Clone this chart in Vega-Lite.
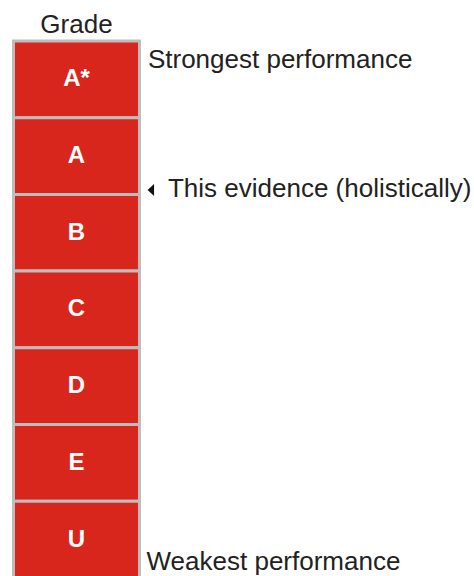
{
  "$schema": "https://vega.github.io/schema/vega-lite/v6.json",
  "width": 474,
  "height": 576,
  "autosize": "none",
  "padding": 0,
  "background": "white",
  "config": {"view": {"stroke": null}},
  "datasets": {
    "grades": [
      {"grade": "A*", "rank": 1, "lo": 0.5, "hi": 1.5},
      {"grade": "A", "rank": 2, "lo": 1.5, "hi": 2.5},
      {"grade": "B", "rank": 3, "lo": 2.5, "hi": 3.5},
      {"grade": "C", "rank": 4, "lo": 3.5, "hi": 4.5},
      {"grade": "D", "rank": 5, "lo": 4.5, "hi": 5.5},
      {"grade": "E", "rank": 6, "lo": 5.5, "hi": 6.5},
      {"grade": "U", "rank": 7, "lo": 6.5, "hi": 7.5}
    ],
    "title": [
      {"label": "Grade", "pos": 0.5, "rank": 0.396}
    ],
    "notes": [
      {"label": "Strongest performance", "pos": 1.067, "rank": 0.852},
      {"label": "This evidence (holistically)", "pos": 1.226, "rank": 2.534},
      {"label": "Weakest performance", "pos": 1.056, "rank": 7.403}
    ],
    "marker": [
      {"label": "This evidence", "pos": 1.09, "rank": 2.443}
    ]
  },
  "layer": [
    {
      "data": {"name": "grades"},
      "mark": {"type": "rect", "fill": "#D9261C", "stroke": "#BDBDBD", "strokeWidth": 3},
      "encoding": {
        "x": {"datum": 0, "type": "quantitative", "scale": {"domain": [-0.1071, 3.6548], "nice": false, "zero": false}, "axis": null},
        "x2": {"datum": 1},
        "y": {"field": "lo", "type": "quantitative", "scale": {"domain": [-0.0346, 7.475], "nice": false, "zero": false, "reverse": true}, "axis": null},
        "y2": {"field": "hi"}
      }
    },
    {
      "data": {"name": "grades"},
      "mark": {"type": "text", "font": "Liberation Sans", "fontSize": 24, "fontWeight": "bold", "color": "white", "align": "center", "baseline": "middle"},
      "encoding": {
        "x": {"datum": 0.5, "type": "quantitative"},
        "y": {"field": "rank", "type": "quantitative"},
        "text": {"field": "grade"}
      }
    },
    {
      "data": {"name": "title"},
      "mark": {"type": "text", "font": "Liberation Sans", "fontSize": 26, "color": "#222222", "align": "center", "baseline": "alphabetic"},
      "encoding": {
        "x": {"field": "pos", "type": "quantitative"},
        "y": {"field": "rank", "type": "quantitative"},
        "text": {"field": "label"}
      }
    },
    {
      "data": {"name": "notes"},
      "mark": {"type": "text", "font": "Liberation Sans", "fontSize": 26, "color": "#222222", "align": "left", "baseline": "alphabetic"},
      "encoding": {
        "x": {"field": "pos", "type": "quantitative"},
        "y": {"field": "rank", "type": "quantitative"},
        "text": {"field": "label"}
      }
    },
    {
      "data": {"name": "marker"},
      "mark": {"type": "point", "shape": "M0.55,-1L-0.55,0L0.55,1Z", "size": 140, "filled": true, "color": "#111111", "opacity": 1},
      "encoding": {
        "x": {"field": "pos", "type": "quantitative"},
        "y": {"field": "rank", "type": "quantitative"}
      }
    }
  ]
}
